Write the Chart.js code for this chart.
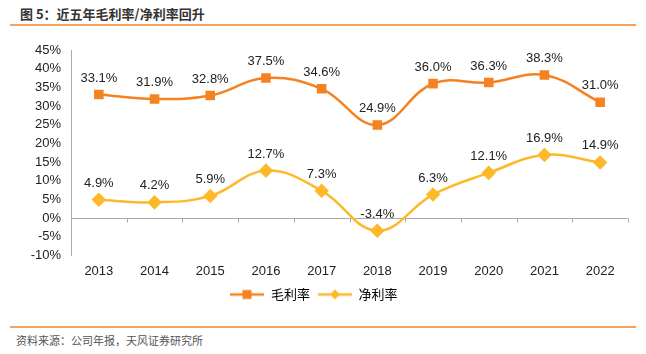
<!DOCTYPE html>
<html>
<head>
<meta charset="utf-8">
<script src="https://cdn.jsdelivr.net/npm/chart.js@4.4.1/dist/chart.umd.min.js"></script>
<style>
  html, body { margin: 0; padding: 0; background: #fff; }
  body { width: 646px; height: 354px; position: relative; overflow: hidden; font-family: "Liberation Sans", "Noto Sans CJK SC", sans-serif; }
  #title { position: absolute; left: 20px; top: 4px; font: bold 13px "Noto Sans CJK SC", sans-serif; color: #333; }
  #topline { position: absolute; left: 10px; top: 24px; width: 626px; height: 2px; background: #F7A35C; }
  #botline { position: absolute; left: 10px; top: 326px; width: 626px; height: 2px; background: #F7A35C; }
  #source { position: absolute; left: 16px; top: 332px; font: 11px "Noto Sans CJK SC", sans-serif; color: #555; }
  #wrap { position: absolute; left: 0; top: 0; width: 646px; height: 318px; }
</style>
</head>
<body>
<div id="title">图 5：近五年毛利率/净利率回升</div>
<div id="topline"></div>
<div id="wrap"><canvas id="chart"></canvas></div>
<div id="botline"></div>
<div id="source">资料来源：公司年报，天风证券研究所</div>
<script>
// Chart data
const years = ['2013', '2014', '2015', '2016', '2017', '2018', '2019', '2020', '2021', '2022'];
const grossMargin = [33.1, 31.9, 32.8, 37.5, 34.6, 24.9, 36.0, 36.3, 38.3, 31.0];
const netMargin = [4.9, 4.2, 5.9, 12.7, 7.3, -3.4, 6.3, 12.1, 16.9, 14.9];
const seriesNames = ['毛利率', '净利率'];
const yMin = -10, yMax = 45, yStep = 5;

const orange = '#F58220';
const yellow = '#FDB92A';

// legend icon: short line with a marker in the middle
function legendIcon(color, shape) {
    const c = document.createElement('canvas');
    c.width = 34; c.height = 12;
    const g = c.getContext('2d');
    g.strokeStyle = color; g.lineWidth = 2.5;
    g.beginPath(); g.moveTo(0, 6); g.lineTo(34, 6); g.stroke();
    g.fillStyle = color;
    if (shape === 'rect') {
        g.fillRect(12, 1.5, 9, 9);
    } else {
        g.beginPath(); g.moveTo(17, 1); g.lineTo(22, 6); g.lineTo(17, 11); g.lineTo(12, 6); g.closePath(); g.fill();
    }
    return c;
}
const icons = [legendIcon(orange, 'rect'), legendIcon(yellow, 'diamond')];

// value labels above each point
const valueLabels = {
    id: 'valueLabels',
    afterDatasetsDraw(chart) {
        const ctx = chart.ctx;
        ctx.save();
        ctx.font = '13px "Liberation Sans", Arial, sans-serif';
        ctx.fillStyle = '#222';
        ctx.textAlign = 'center';
        ctx.textBaseline = 'bottom';
        chart.data.datasets.forEach((ds, i) => {
            chart.getDatasetMeta(i).data.forEach((pt, j) => {
                ctx.fillText(ds.data[j].toFixed(1) + '%', pt.x, pt.y - 10);
            });
        });
        ctx.restore();
    }
};

// x axis line drawn at 0% with tick marks between categories
const zeroAxis = {
    id: 'zeroAxis',
    beforeDatasetsDraw(chart) {
        const ctx = chart.ctx;
        const x = chart.scales.x, y = chart.scales.y;
        const y0 = Math.round(y.getPixelForValue(0)) + 0.5;
        ctx.save();
        ctx.strokeStyle = '#aaa';
        ctx.lineWidth = 1;
        ctx.beginPath();
        ctx.moveTo(x.left, y0); ctx.lineTo(x.right, y0);
        for (let i = 0; i <= years.length; i++) {
            const px = Math.round(x.left + (x.right - x.left) * i / years.length) + 0.5;
            ctx.moveTo(px, y0); ctx.lineTo(px, y0 + 4);
        }
        ctx.stroke();
        ctx.restore();
    }
};

new Chart(document.getElementById('chart'), {
    type: 'line',
    data: {
        labels: years,
        datasets: [{
            label: seriesNames[0],
            data: grossMargin,
            borderColor: orange,
            backgroundColor: orange,
            borderWidth: 2.5,
            pointStyle: 'rect',
            pointRadius: 5,
            pointHoverRadius: 5,
            tension: 0.4
        }, {
            label: seriesNames[1],
            data: netMargin,
            borderColor: yellow,
            backgroundColor: yellow,
            borderWidth: 2.5,
            pointStyle: 'rectRot',
            pointRadius: 5.5,
            pointHoverRadius: 5.5,
            tension: 0.4
        }]
    },
    options: {
        responsive: true,
        maintainAspectRatio: false,
        animation: false,
        layout: { padding: { top: 50, left: 0, right: 18, bottom: 7 } },
        plugins: {
            tooltip: { enabled: false },
            legend: {
                position: 'bottom',
                labels: {
                    usePointStyle: true,
                    pointStyleWidth: 34,
                    boxHeight: 12,
                    font: { size: 13, family: '"Noto Sans CJK SC", sans-serif' },
                    color: '#222',
                    padding: 8,
                    generateLabels(chart) {
                        return chart.data.datasets.map((ds, i) => ({
                            text: ds.label,
                            pointStyle: icons[i],
                            fillStyle: ds.borderColor,
                            strokeStyle: ds.borderColor,
                            lineWidth: 0,
                            datasetIndex: i,
                            hidden: false
                        }));
                    }
                }
            }
        },
        scales: {
            x: {
                offset: true,
                grid: { display: false, drawTicks: false },
                border: { display: false },
                ticks: { color: '#222', font: { size: 13 }, padding: 8, autoSkip: false, maxRotation: 0 },
                afterFit(scale) { scale.height -= 7; }
            },
            y: {
                min: yMin,
                max: yMax,
                grid: { display: false, drawTicks: true, tickLength: 4, tickColor: '#aaa' },
                border: { display: true, color: '#aaa' },
                ticks: {
                    stepSize: yStep,
                    autoSkip: false,
                    color: '#222',
                    font: { size: 13 },
                    padding: 6,
                    callback: v => v + '%'
                },
                afterFit(scale) { scale.width = 71; }
            }
        }
    },
    plugins: [valueLabels, zeroAxis]
});
</script>
</body>
</html>
